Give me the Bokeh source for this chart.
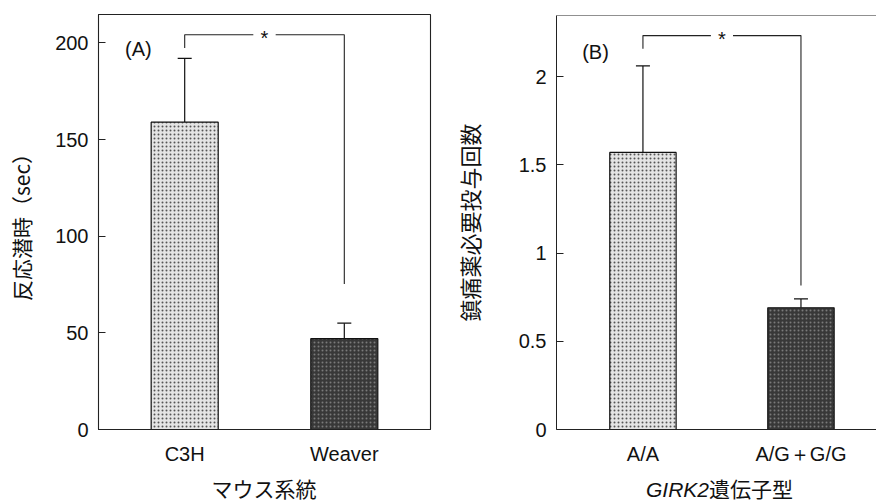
from bokeh.plotting import figure
from bokeh.models import Range1d, FixedTicker, Whisker, TeeHead, Label, Span, ColumnDataSource, Div
from bokeh.layouts import row, column
from bokeh.core.properties import value
from bokeh.embed import file_html
from bokeh.resources import INLINE

# ---- data ----
strains = ["C3H", "Weaver"]
latency = [159.0, 47.0]
latency_upper = [192.0, 55.0]
latency_ticks = [0, 50, 100, 150, 200]
latency_tick_labels = ["0", "50", "100", "150", "200"]
bracket_a = {"top": 204.2, "left_end": 197.4, "right_end": 75.3}

genotypes = ["A/A", "A/G＋G/G"]
doses = [1.57, 0.69]
doses_upper = [2.06, 0.74]
dose_ticks = [0, 0.5, 1, 1.5, 2]
dose_tick_labels = ["0", "0.5", "1", "1.5", "2"]
bracket_b = {"top": 2.232, "left_end": 2.157, "right_end": 0.816}

# ---- style ----
FILLS = ["#e4e4e4", "#383838"]
HATCH = ["#555555", "#7a7a7a"]
TICK_FONT = "Liberation Sans"
CJK_FONT = "Noto Sans CJK JP"
H = 503
HF = 470


def style_axes(p, ticks, tick_labels, cats, xs):
    p.xgrid.visible = False
    p.ygrid.visible = False
    p.background_fill_color = "white"
    p.border_fill_color = "white"
    p.yaxis.ticker = FixedTicker(ticks=ticks)
    p.yaxis.major_label_overrides = {t: l for t, l in zip(ticks, tick_labels)}
    p.yaxis.major_tick_in = 7
    p.yaxis.major_tick_out = 0
    p.yaxis.minor_tick_line_color = None
    p.yaxis.major_label_standoff = 10
    p.xaxis.ticker = FixedTicker(ticks=xs)
    p.xaxis.major_label_overrides = {x: c for x, c in zip(xs, cats)}
    p.xaxis.major_tick_line_color = None
    p.xaxis.minor_tick_line_color = None
    p.xaxis.major_label_standoff = 7
    for ax in (p.xaxis, p.yaxis):
        ax.axis_line_color = "#222222"
        ax.major_label_text_font = TICK_FONT
        ax.major_label_text_font_size = "20px"
        ax.major_label_text_color = "#111111"
    p.yaxis.major_tick_line_color = "#222222"


def draw_panel(p, vals, uppers, bracket, xs, width):
    src = ColumnDataSource(dict(x=xs, top=vals, upper=uppers, color=FILLS, hatch=HATCH))
    p.vbar(x="x", top="top", width=width, source=src, fill_color="color",
           hatch_pattern="dot", hatch_color="hatch", hatch_scale=4, hatch_weight=1,
           line_color="#111111", line_width=1.2)
    p.add_layout(Whisker(base="x", lower="top", upper="upper", source=src,
                         line_color="#111111", line_width=1.2,
                         upper_head=TeeHead(size=14, line_color="#111111", line_width=1.2),
                         lower_head=None))
    x0, x1 = xs[0], xs[1]
    xc = (x0 + x1) / 2
    g = 0.07
    p.line([x0, x0, xc - g], [bracket["left_end"], bracket["top"], bracket["top"]],
           line_color="#222222", line_width=1.1)
    p.line([xc + g, x1, x1], [bracket["top"], bracket["top"], bracket["right_end"]],
           line_color="#222222", line_width=1.1)
    p.text(x=[xc], y=[bracket["top"]], text=["*"], text_font=value(TICK_FONT),
           text_font_size="20px", text_align="center", text_baseline="middle",
           y_offset=3, text_color="#111111")


# ---- panel A ----
xs_a = [i + 0.5 for i in range(len(strains))]
p1 = figure(width=440, height=HF, x_range=Range1d(-0.04, 2.04), y_range=Range1d(0, 214.7),
            output_backend="svg", toolbar_location=None,
            min_border_left=98, min_border_right=10, min_border_top=14, min_border_bottom=41)
p1.outline_line_color = "#222222"
p1.outline_line_width = 1.1
style_axes(p1, latency_ticks, latency_tick_labels, strains, xs_a)
p1.yaxis.axis_label = "反応潜時（sec）"
p1.yaxis.axis_label_text_font = CJK_FONT
p1.yaxis.axis_label_text_font_size = "21px"
p1.yaxis.axis_label_text_font_style = "normal"
p1.yaxis.axis_label_standoff = 16
p1.yaxis.axis_label_text_color = "#111111"
draw_panel(p1, latency, latency_upper, bracket_a, xs_a, 0.42)
p1.add_layout(Label(x=0.21, y=196.8, text="(A)", text_align="center", text_baseline="middle",
                    text_font=TICK_FONT, text_font_size="20px", text_color="#111111"))

xlabel_a = ("<div style=\"width:332px;margin-left:98px;padding-top:7px;text-align:center;"
            "white-space:nowrap;font-family:'Noto Sans CJK JP';font-size:21px;"
            "line-height:22px;color:#111111;\">マウス系統</div>")
div_a = Div(text=xlabel_a, width=440, height=H - HF, margin=(0, 0, 0, 0))

# ---- panel B ----
xs_b = [i + 0.5 for i in range(len(genotypes))]
p2 = figure(width=436, height=HF, x_range=Range1d(-0.047, 1.978), y_range=Range1d(0, 2.346),
            output_backend="svg", toolbar_location=None,
            min_border_left=116, min_border_right=0, min_border_top=15, min_border_bottom=41)
p2.outline_line_color = None
style_axes(p2, dose_ticks, dose_tick_labels, genotypes, xs_b)
p2.add_layout(Span(location=2.346, dimension="width", line_color="#222222", line_width=1.1))
p2.yaxis.axis_label = "鎮痛薬必要投与回数"
p2.yaxis.axis_label_text_font = CJK_FONT
p2.yaxis.axis_label_text_font_size = "22px"
p2.yaxis.axis_label_text_font_style = "normal"
p2.yaxis.axis_label_standoff = 31
p2.yaxis.axis_label_text_color = "#111111"
draw_panel(p2, doses, doses_upper, bracket_b, xs_b, 0.42)
p2.add_layout(Label(x=0.2, y=2.14, text="(B)", text_align="center", text_baseline="middle",
                    text_font=TICK_FONT, text_font_size="20px", text_color="#111111"))

xlabel_b = ("<div style=\"margin-left:206px;padding-top:7px;text-align:left;white-space:nowrap;"
            "font-family:'Noto Sans CJK JP';font-size:21px;line-height:22px;color:#111111;\">"
            "<i style=\"font-family:'Liberation Sans';font-size:21px;\">GIRK2</i>遺伝子型</div>")
div_b = Div(text=xlabel_b, width=436, height=H - HF, margin=(0, 0, 0, 0))

layout = row(column(p1, div_a), column(p2, div_b))
open("out.html", "w").write(file_html(layout, INLINE))
